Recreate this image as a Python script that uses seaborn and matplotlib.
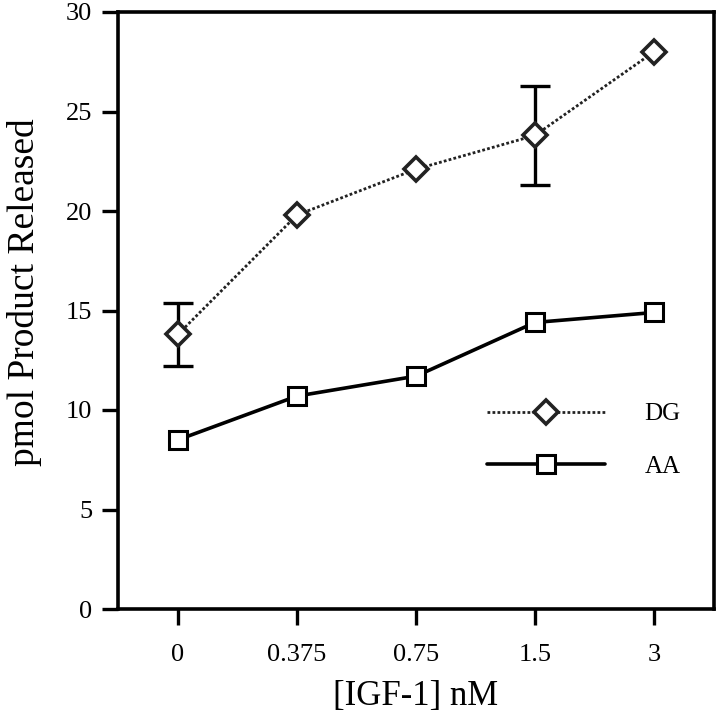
import matplotlib
matplotlib.use("Agg")
import matplotlib.pyplot as plt
import seaborn as sns
import pandas as pd

doses = ["0", "0.375", "0.75", "1.5", "3"]
dg_values = [13.8, 19.8, 22.1, 23.8, 28.0]
dg_err = [1.6, 0.0, 0.0, 2.5, 0.0]
aa_values = [8.5, 10.7, 11.7, 14.4, 14.9]
yticks = [0, 5, 10, 15, 20, 25, 30]

sns.set_theme(style="ticks")
plt.rcParams["font.family"] = ["Liberation Serif", "DejaVu Serif"]
plt.rcParams["text.color"] = "black"
plt.rcParams["axes.labelcolor"] = "black"

df = pd.DataFrame({
    "dose": doses * 2,
    "value": dg_values + aa_values,
    "series": ["DG"] * len(doses) + ["AA"] * len(doses),
})

fig = plt.figure(figsize=(7.2, 7.18), dpi=100)
ax = fig.add_axes([118 / 720, 1 - 609 / 718, (714 - 118) / 720, (609 - 12) / 718])

pos = list(range(len(doses)))
eb = [(p, v, e) for p, v, e in zip(pos, dg_values, dg_err) if e > 0]
ax.errorbar([t[0] for t in eb], [t[1] for t in eb], yerr=[t[2] for t in eb],
            fmt="none", ecolor="black", elinewidth=2.4, capsize=11,
            capthick=2.4, zorder=1)

sns.lineplot(data=df[df.series == "DG"], x="dose", y="value", ax=ax,
             color="#222222", linewidth=2.0, linestyle=(0, (1, 0.8)),
             marker="D", markersize=12, markerfacecolor="white",
             markeredgecolor="#222222", markeredgewidth=2.6,
             label="DG", zorder=3)
sns.lineplot(data=df[df.series == "AA"], x="dose", y="value", ax=ax,
             color="black", linewidth=2.6, linestyle="-",
             marker="s", markersize=12.5, markerfacecolor="white",
             markeredgecolor="black", markeredgewidth=2.2,
             label="AA", zorder=3)

ax.set_xlim(-0.504, len(doses) - 1 + 0.504)
ax.set_ylim(0, 30)
ax.set_yticks(yticks)
ax.set_xticks(pos)
ax.set_xticklabels(doses)

for s in ax.spines.values():
    s.set_linewidth(2.6)
    s.set_color("black")
ax.tick_params(axis="both", direction="out", length=11.5, width=2.4,
               labelsize=19, colors="black", pad=7)
ax.tick_params(axis="x", pad=14)

ax.set_xlabel("[IGF-1] nM", fontsize=25, labelpad=10, color="black")
ax.set_ylabel("pmol Product Released", fontsize=27, color="black")
ax.yaxis.set_label_coords(-0.128, 0.531)

leg = ax.legend(loc="upper left", bbox_to_anchor=(487 / 720, 1 - 403 / 718),
                bbox_transform=fig.transFigure, frameon=False, fontsize=18,
                handlelength=4.7, handletextpad=1.6, labelspacing=1.2,
                borderpad=0, borderaxespad=0, numpoints=1)
for t in leg.get_texts():
    t.set_color("black")

fig.savefig("out.png", dpi=100, facecolor="white")
